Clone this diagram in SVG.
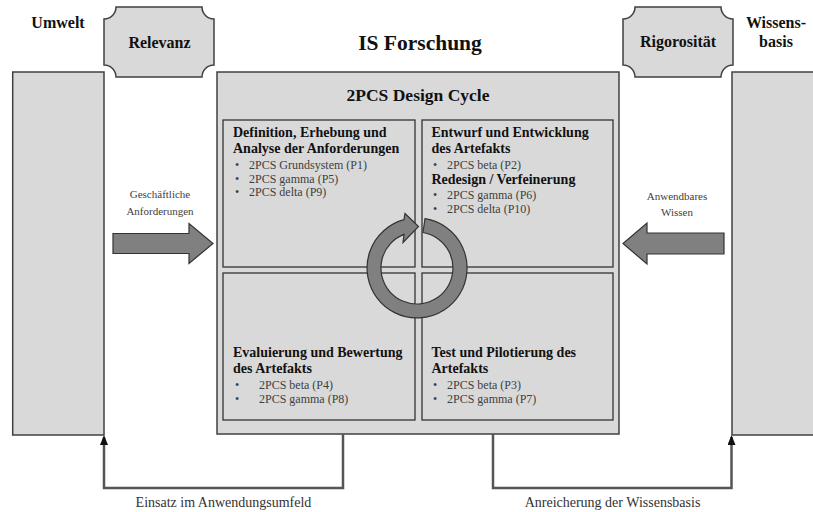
<svg xmlns="http://www.w3.org/2000/svg" width="813" height="512" viewBox="0 0 813 512">
<style>
.panel{fill:#d9d9d9;stroke:#404040;stroke-width:1.5}
.inner{fill:#d9d9d9;stroke:#333;stroke-width:1.3}
.hdr{font-family:"Liberation Serif","Times New Roman",serif;font-weight:bold;font-size:16px;fill:#111;text-anchor:middle}
.bt{font-family:"Liberation Serif","Times New Roman",serif;font-weight:bold;font-size:14px;fill:#111}
.it{font-family:"Liberation Serif","Times New Roman",serif;font-size:12px;fill:#404040}
.sm{font-family:"Liberation Serif","Times New Roman",serif;font-size:11px;fill:#404040;text-anchor:middle}
.lbl{font-family:"Liberation Serif","Times New Roman",serif;font-size:14px;fill:#333;text-anchor:middle}
.bigarrow{fill:#808080;stroke:#333;stroke-width:1.2}
.conn{fill:none;stroke:#555;stroke-width:2.5}
</style>
<defs>
<marker id="ah" markerWidth="10" markerHeight="8" refX="8" refY="4" orient="auto" markerUnits="userSpaceOnUse" viewBox="0 0 10 8">
<path d="M0,0 L10,4 L0,8 Z" fill="#111"/>
</marker>
</defs>
<rect width="813" height="512" fill="#fff"/>

<g id="umwelt">
<rect class="panel" x="12.7" y="72" width="91.3" height="363"/>
<text class="hdr" x="58" y="28">Umwelt</text>
</g>

<g id="wissensbasis">
<rect class="panel" x="732" y="72" width="91.3" height="363"/>
<text class="hdr" x="776" y="28">Wissens-</text>
<text class="hdr" x="776" y="47">basis</text>
</g>

<g id="relevanz">
<path class="panel" d="M116 7 H202 A12 12 0 0 0 214 19 V65 A12 12 0 0 0 202 77 H116 A12 12 0 0 0 104 65 V19 A12 12 0 0 0 116 7 Z"/>
<text class="hdr" x="159.5" y="48">Relevanz</text>
</g>

<g id="rigorositaet">
<path class="panel" d="M635 7 H721 A12 12 0 0 0 733 19 V65 A12 12 0 0 0 721 77 H635 A12 12 0 0 0 623 65 V19 A12 12 0 0 0 635 7 Z"/>
<text class="hdr" x="678" y="47">Rigorosität</text>
</g>

<g id="is-forschung">
<text class="hdr" x="420" y="50" style="font-size:21.5px">IS Forschung</text>
</g>

<g id="design-cycle">
<rect class="panel" x="217" y="72" width="402" height="362"/>
<text class="hdr" x="418" y="101" style="font-size:17.5px">2PCS Design Cycle</text>
</g>

<g id="anforderungen">
<rect class="inner" x="223" y="120" width="192" height="147"/>
<text class="bt" x="233" y="137">Definition, Erhebung und</text>
<text class="bt" x="233" y="153">Analyse der Anforderungen</text>
<text class="it" x="235" y="169">•</text><text class="it" x="249" y="169">2PCS Grundsystem (P1)</text>
<text class="it" x="235" y="182.5">•</text><text class="it" x="249" y="182.5">2PCS gamma (P5)</text>
<text class="it" x="235" y="196">•</text><text class="it" x="249" y="196">2PCS delta (P9)</text>
</g>

<g id="entwurf">
<rect class="inner" x="422" y="120" width="191" height="147"/>
<text class="bt" x="431.5" y="137">Entwurf und Entwicklung</text>
<text class="bt" x="431.5" y="153">des Artefakts</text>
<text class="it" x="433" y="169">•</text><text class="it" x="447" y="169">2PCS beta (P2)</text>
<text class="bt" x="431.5" y="184">Redesign / Verfeinerung</text>
<text class="it" x="433" y="199">•</text><text class="it" x="447" y="199">2PCS gamma (P6)</text>
<text class="it" x="433" y="212.5">•</text><text class="it" x="447" y="212.5">2PCS delta (P10)</text>
</g>

<g id="evaluierung">
<rect class="inner" x="223" y="273" width="192" height="147"/>
<text class="bt" x="233" y="357">Evaluierung und Bewertung</text>
<text class="bt" x="233" y="373">des Artefakts</text>
<text class="it" x="235" y="389">•</text><text class="it" x="259" y="389">2PCS beta (P4)</text>
<text class="it" x="235" y="402.5">•</text><text class="it" x="259" y="402.5">2PCS gamma (P8)</text>
</g>

<g id="test">
<rect class="inner" x="422" y="273" width="191" height="147"/>
<text class="bt" x="431.5" y="357">Test und Pilotierung des</text>
<text class="bt" x="431.5" y="373">Artefakts</text>
<text class="it" x="433" y="389">•</text><text class="it" x="447" y="389">2PCS beta (P3)</text>
<text class="it" x="433" y="402.5">•</text><text class="it" x="447" y="402.5">2PCS gamma (P7)</text>
</g>

<g id="cycle-arrow">
<path class="bigarrow" d="M425 218.6 A50 50 0 1 1 404 219.7 L405 213.5 L418.5 226.5 L403 242.5 L404 234.4 A36 36 0 1 0 423 232.5 Z"/>
</g>

<g id="connectors">
<g id="geschaeftliche">
<path class="bigarrow" d="M113 233.5 H189 V223.5 L213 243.5 L189 263.5 V253.5 H113 Z"/>
<text class="sm" x="160" y="198">Geschäftliche</text>
<text class="sm" x="160" y="215">Anforderungen</text>
</g>
<g id="anwendbares">
<path class="bigarrow" d="M724 233 H647 V223 L623 243.5 L647 264 V254 H724 Z"/>
<text class="sm" x="677" y="200">Anwendbares</text>
<text class="sm" x="677" y="216">Wissen</text>
</g>
<path class="conn" d="M343 434 V488 H104 V437" marker-end="url(#ah)"/>
<path class="conn" d="M493 434 V488 H731.5 V437" marker-end="url(#ah)"/>
<text class="lbl" x="223.5" y="507">Einsatz im Anwendungsumfeld</text>
<text class="lbl" x="612.5" y="507">Anreicherung der Wissensbasis</text>
</g>
</svg>
